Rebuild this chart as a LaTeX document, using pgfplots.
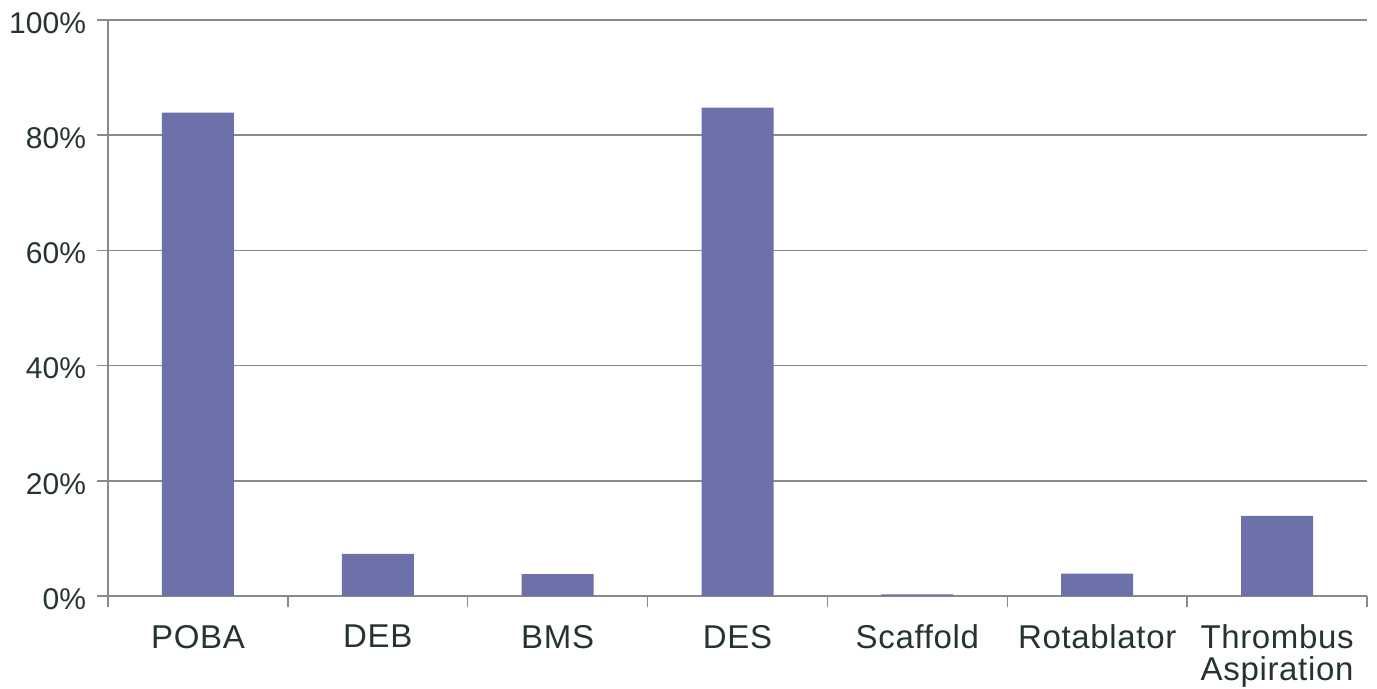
\documentclass[border=0pt]{standalone}
\usepackage{pgfplots}
\pgfplotsset{compat=1.18}
\usepackage{fontspec}
\setmainfont{Liberation Sans}
\newfontfamily\catfont[LetterSpace=2]{Liberation Sans}
\definecolor{barblue}{HTML}{6D71AA}
\definecolor{labeltext}{HTML}{263430}
\definecolor{gridgray}{HTML}{8A8A8A}

\begin{document}
\begin{tikzpicture}
\begin{axis}[
  scale only axis,
  width=629.5bp, height=288bp,
  xmin=-0.5, xmax=6.5,
  ymin=0, ymax=100,
  axis lines*=left,
  axis line style={draw=gridgray, line width=0.7bp},
  ytick={0,20,...,100},
  yticklabel={\pgfmathprintnumber{\tick}\%},
  /pgf/number format/assume math mode=true,
  ymajorgrids,
  grid style={draw=gridgray, line width=0.7bp},
  % category boundaries carry the tick marks
  xtick={-0.5,0.5,...,6.5},
  xticklabels={},
  % category names sit at the bar centres without marks
  extra x ticks={0,...,6},
  extra x tick labels={POBA,DEB,BMS,DES,Scaffold,Rotablator,{Thrombus\\Aspiration}},
  extra x tick style={xtick style={draw=none}, grid=none},
  tick align=outside,
  tick style={draw=gridgray, line width=0.7bp},
  major tick length=5.5bp,
  yticklabel style={font=\fontsize{15bp}{16bp}\selectfont, text=labeltext, xshift=-2bp, yshift=-1.5bp},
  xticklabel style={font=\catfont\fontsize{16.5bp}{16bp}\selectfont, text=labeltext,
    align=center, yshift=-5.5bp, execute at begin node=\strut},
  ybar,
  bar width=36bp,
  clip=false,
]
\addplot[fill=barblue, draw=none] coordinates {
  (0,83.9) (1,7.3) (2,3.8) (3,84.8) (4,0.3) (5,3.9) (6,13.9)
};
\end{axis}
\pgfresetboundingbox
\path ([xshift=-54bp,yshift=-46bp]current axis.south west)
  rectangle ([xshift=5bp,yshift=10bp]current axis.north east);
\end{tikzpicture}
\end{document}
